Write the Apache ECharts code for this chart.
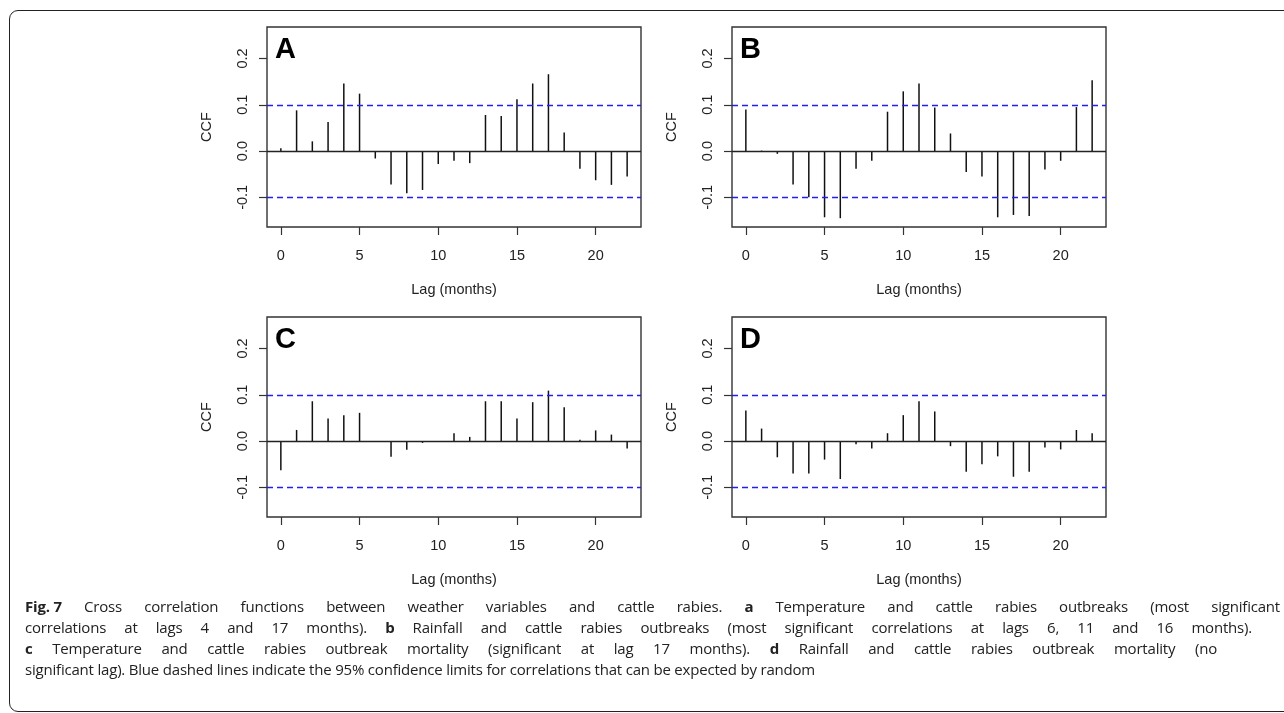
<!DOCTYPE html>
<html>
<head>
<meta charset="utf-8">
<script src="https://cdn.jsdelivr.net/npm/echarts@6/dist/echarts.min.js"></script>
<style>
  body { margin: 0; background: #fff; }
  #wrap { position: relative; width: 1284px; height: 713px; overflow: hidden; }
  #chart { position: absolute; left: 0; top: 0; width: 1284px; height: 713px; }
  .frame { position: absolute; left: 9px; top: 10px; width: 1320px; height: 702px;
           border: 1.5px solid #222; border-radius: 9px; box-sizing: border-box; }
  .cap { position: absolute; left: 25px; font-family: "Open Sans"; font-size: 15px; letter-spacing: -0.2px;
         color: #222; line-height: 20px; white-space: nowrap; }
  .just { text-align: justify; text-align-last: justify; white-space: normal; }
  .fig { display: inline-block; font-weight: bold; }
</style>
</head>
<body>
<div id="wrap">
  <div class="frame"></div>
  <div id="chart"></div>
  <div class="cap just" style="top:596px;width:1255px;"><span class="fig">Fig. 7</span> Cross correlation functions between weather variables and cattle rabies. <b>a</b> Temperature and cattle rabies outbreaks (most significant</div>
  <div class="cap just" style="top:617px;width:1227px;">correlations at lags 4 and 17 months). <b>b</b> Rainfall and cattle rabies outbreaks (most significant correlations at lags 6, 11 and 16 months).</div>
  <div class="cap just" style="top:638px;width:1192px;"><b>c</b> Temperature and cattle rabies outbreak mortality (significant at lag 17 months). <b>d</b> Rainfall and cattle rabies outbreak mortality (no</div>
  <div class="cap" style="top:659px;">significant lag). Blue dashed lines indicate the 95% confidence limits for correlations that can be expected by random</div>
</div>
<script>
// lags 0..22 months
const lags = [0, 1, 2, 3, 4, 5, 6, 7, 8, 9, 10, 11, 12, 13, 14, 15, 16, 17, 18, 19, 20, 21, 22];

// A: temperature vs outbreaks
const ccfA = [0.006, 0.088, 0.021, 0.063, 0.146, 0.124, -0.016, -0.072, -0.091, -0.084, -0.028, -0.021,
              -0.026, 0.078, 0.076, 0.112, 0.146, 0.166, 0.040, -0.038, -0.063, -0.073, -0.055];
// B: rainfall vs outbreaks
const ccfB = [0.090, 0.001, -0.006, -0.072, -0.100, -0.143, -0.145, -0.038, -0.021, 0.085, 0.129, 0.146,
              0.094, 0.038, -0.045, -0.055, -0.143, -0.138, -0.140, -0.040, -0.021, 0.095, 0.153];
// C: temperature vs mortality
const ccfC = [-0.063, 0.024, 0.086, 0.049, 0.056, 0.061, 0.000, -0.034, -0.019, -0.004, 0.000, 0.017,
              0.009, 0.086, 0.086, 0.049, 0.084, 0.109, 0.073, 0.003, 0.023, 0.014, -0.016];
// D: rainfall vs mortality
const ccfD = [0.066, 0.027, -0.035, -0.070, -0.070, -0.040, -0.082, -0.007, -0.016, 0.017, 0.056, 0.086,
              0.064, -0.011, -0.066, -0.050, -0.033, -0.077, -0.066, -0.014, -0.018, 0.024, 0.017];

const panelNames = ['A', 'B', 'C', 'D'];
const ciLimit = 0.103;
const xTicks = [0, 5, 10, 15, 20];
const yTicks = [-0.1, 0, 0.1, 0.2];

const allSeries = [ccfA, ccfB, ccfC, ccfD];
const boxes = [
  { left: 267, top: 27 },
  { left: 732, top: 27 },
  { left: 267, top: 317 },
  { left: 732, top: 317 }
];
const font = '"Liberation Sans", Arial, sans-serif';
const txt = { fontFamily: font, fontSize: 14.5, color: '#222' };

const grid = [], xAxis = [], yAxis = [], series = [], graphic = [];

boxes.forEach((b, i) => {
  grid.push({
    left: b.left, top: b.top, width: 374, height: 200,
    show: true, borderColor: '#333', borderWidth: 1.4, backgroundColor: 'transparent'
  });
  xAxis.push({
    gridIndex: i, type: 'value', min: -0.88, max: 22.88,
    axisLine: { show: false, onZero: false },
    splitLine: { show: false },
    axisTick: { show: true, length: 8, customValues: xTicks, lineStyle: { color: '#333', width: 1.2 } },
    axisLabel: Object.assign({ customValues: xTicks, margin: 21 }, txt),
    name: 'Lag (months)', nameLocation: 'middle', nameGap: 55,
    nameTextStyle: txt
  });
  yAxis.push({
    gridIndex: i, type: 'value', min: -0.164, max: 0.268,
    axisLine: { show: false, onZero: false },
    splitLine: { show: false },
    axisTick: { show: true, length: 8, customValues: yTicks, lineStyle: { color: '#333', width: 1.2 } },
    axisLabel: Object.assign({
      customValues: yTicks, rotate: 90, margin: 17,
      formatter: v => v.toFixed(1)
    }, txt),
    name: 'CCF', nameLocation: 'middle', nameGap: 53, nameRotate: 90,
    nameTextStyle: txt
  });
  series.push({
    type: 'bar', xAxisIndex: i, yAxisIndex: i, silent: true,
    barWidth: 1.5,
    itemStyle: { color: '#111' },
    data: lags.map((l, k) => [l, allSeries[i][k]]),
    markLine: {
      silent: true, symbol: 'none', label: { show: false },
      data: [
        { yAxis: 0, lineStyle: { color: '#222', type: 'solid', width: 1.4 } },
        { yAxis: ciLimit, lineStyle: { color: '#2020f4', type: [6, 4], width: 1.3 } },
        { yAxis: -ciLimit, lineStyle: { color: '#2020f4', type: [6, 4], width: 1.3 } }
      ]
    }
  });
  graphic.push({
    type: 'text', left: b.left + 8, top: b.top + 8,
    style: { text: panelNames[i], font: 'bold 29px ' + font, fill: '#000' }
  });
});

const chart = echarts.init(document.getElementById('chart'), null, { renderer: 'canvas' });
chart.setOption({
  animation: false,
  backgroundColor: 'transparent',
  grid, xAxis, yAxis, series, graphic
});
</script>
</body>
</html>
